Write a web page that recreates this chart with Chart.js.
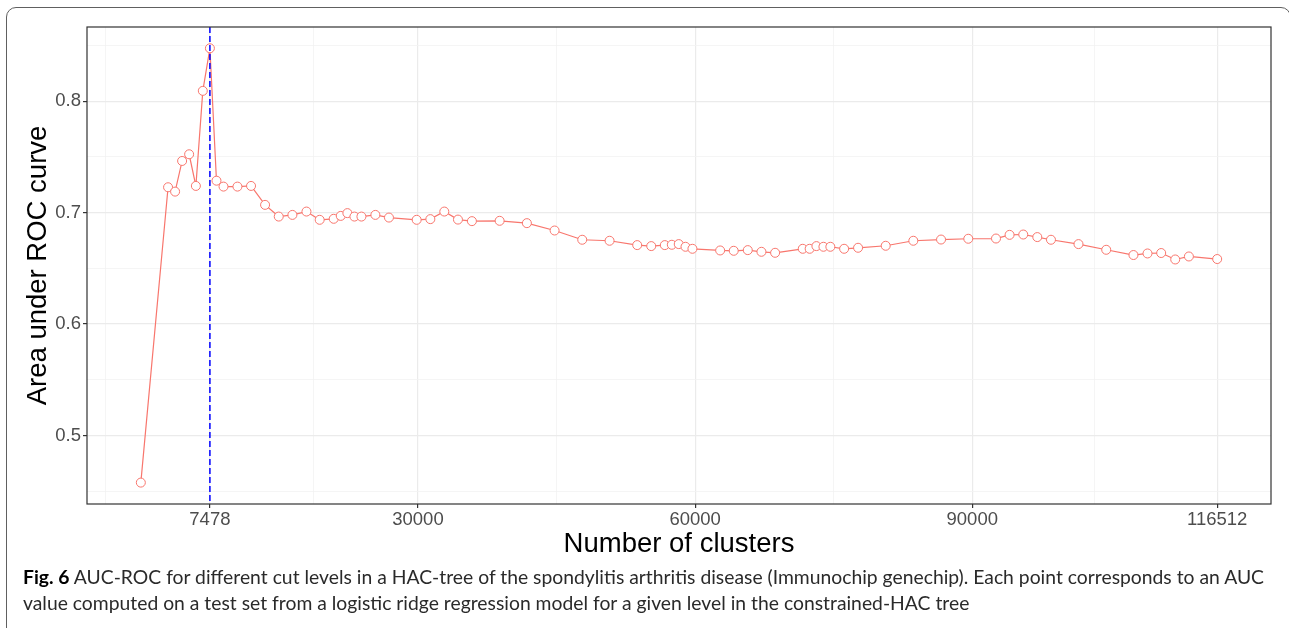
<!DOCTYPE html>
<html>
<head>
<meta charset="utf-8">
<script src="https://cdn.jsdelivr.net/npm/chart.js@4.4.1/dist/chart.umd.min.js"></script>
<style>
html,body{margin:0;padding:0;background:#fff;overflow:hidden;}
#wrap{position:relative;width:1289px;height:628px;overflow:hidden;}
#frame{position:absolute;left:5.5px;top:6.75px;width:1285.5px;height:700px;border:1.5px solid #606060;border-radius:10px;box-sizing:border-box;}
#chart{position:absolute;left:0;top:0;}
.cap{position:absolute;left:22.5px;font-family:Lato,"Open Sans",sans-serif;font-size:19px;line-height:26px;color:#2a2a2a;white-space:nowrap;transform-origin:0 0;}
.cap b{color:#000;font-weight:700;}
</style>
</head>
<body>
<div id="wrap">
  <div id="frame"></div>
  <canvas id="chart" width="1289" height="628"></canvas>
  <div class="cap" id="cap1" style="top:564px;"><b>Fig. 6</b> AUC-ROC for different cut levels in a HAC-tree of the spondylitis arthritis disease (Immunochip genechip). Each point corresponds to an AUC</div>
  <div class="cap" id="cap2" style="top:590px;">value computed on a test set from a logistic ridge regression model for a given level in the constrained-HAC tree</div>
</div>
<script>
// ---- data ----
const clusters = [1, 2950, 3710, 4470, 5230, 5960, 6710, 7478, 8190, 8950,
  10460, 11930, 13450, 14930, 16410, 17930, 19360, 20880, 21640, 22360,
  23120, 23880, 25390, 26860, 29860, 31340, 32850, 34330, 35840, 38840,
  41790, 44790, 47780, 50740, 53730, 55250, 56720, 57480, 58230, 58960,
  59710, 62710, 64180, 65700, 67180, 68660, 71650, 72400, 73130, 73890,
  74640, 76130, 77640, 80630, 83620, 86620, 89570, 92570, 94040, 95520,
  97040, 98520, 101500, 104500, 107450, 108970, 110450, 111970, 113450, 116512];
const auc = [0.4577, 0.7227, 0.7188, 0.7463, 0.7523, 0.7239, 0.8092, 0.8474, 0.7286, 0.7233,
  0.7233, 0.7239, 0.7069, 0.6964, 0.6979, 0.7009, 0.6935, 0.6944, 0.6970, 0.6995,
  0.6964, 0.6964, 0.6979, 0.6955, 0.6935, 0.6941, 0.7009, 0.6937, 0.6923, 0.6926,
  0.6905, 0.6839, 0.6756, 0.6747, 0.6708, 0.6699, 0.6708, 0.6711, 0.6717, 0.6693,
  0.6675, 0.6660, 0.6657, 0.6663, 0.6648, 0.6639, 0.6675, 0.6675, 0.6699, 0.6693,
  0.6693, 0.6675, 0.6684, 0.6702, 0.6747, 0.6758, 0.6765, 0.6767, 0.6800, 0.6803,
  0.6780, 0.6756, 0.6717, 0.6666, 0.6619, 0.6633, 0.6637, 0.6579, 0.6606, 0.6583];
const bestCut = 7478;
const xMajorTicks = [7478, 30000, 60000, 90000, 116512];
const xMinorTicks = [-3783, 18739, 45000, 75000, 103256];
const yMajorTicks = [0.5, 0.6, 0.7, 0.8];
const yMinorTicks = [0.45, 0.55, 0.65, 0.75, 0.85];
const xLabel = 'Number of clusters';
const yLabel = 'Area under ROC curve';

// ---- chart ----
const points = clusters.map((c, i) => ({x: c, y: auc[i]}));
const near = (a, b) => Math.abs(a - b) < 1e-6;
const isXMajor = v => xMajorTicks.some(t => near(t, v));
const isYMajor = v => yMajorTicks.some(t => near(t, v));

const xMin = -5826, xMax = 122338, yMin = 0.4385, yMax = 0.8665;

const panelPlugin = {
  id: 'panelPlugin',
  afterDatasetsDraw(chart) {
    const {ctx, chartArea: a, scales: {x}} = chart;
    const px = x.getPixelForValue(bestCut);
    ctx.save();
    ctx.strokeStyle = '#0000FF';
    ctx.lineWidth = 1.5;
    ctx.setLineDash([6, 3]);
    ctx.beginPath();
    ctx.moveTo(px, a.top);
    ctx.lineTo(px, a.bottom);
    ctx.stroke();
    ctx.setLineDash([]);
    ctx.strokeStyle = '#333333';
    ctx.lineWidth = 1.2;
    ctx.strokeRect(a.left, a.top, a.right - a.left, a.bottom - a.top);
    ctx.restore();
  }
};

new Chart(document.getElementById('chart'), {
  type: 'scatter',
  data: {
    datasets: [{
      data: points,
      showLine: true,
      borderColor: '#F8766D',
      borderWidth: 1.2,
      pointRadius: 4.5,
      pointBackgroundColor: '#FFFFFF',
      pointBorderColor: '#F8766D',
      pointBorderWidth: 1,
      tension: 0
    }]
  },
  options: {
    responsive: false,
    animation: false,
    devicePixelRatio: 1,
    layout: {padding: {left: 0, right: 18, top: 27, bottom: 64}},
    plugins: {legend: {display: false}, tooltip: {enabled: false}},
    scales: {
      x: {
        type: 'linear',
        min: xMin, max: xMax,
        afterBuildTicks: s => { s.ticks = xMinorTicks.concat(xMajorTicks).sort((a, b) => a - b).map(v => ({value: v})); },
        afterFit: s => { s.height = 60; },
        border: {display: false},
        grid: {
          color: c => (c.tick && isXMajor(c.tick.value)) ? '#EBEBEB' : '#F3F3F3',
          lineWidth: c => (c.tick && isXMajor(c.tick.value)) ? 1.2 : 0.8,
          tickColor: c => (c.tick && isXMajor(c.tick.value)) ? '#333333' : 'rgba(0,0,0,0)',
          tickLength: 4
        },
        ticks: {
          autoSkip: false, maxRotation: 0, minRotation: 0, padding: 1,
          color: '#4D4D4D',
          font: {family: 'Liberation Sans, Arial, sans-serif', size: 18.5},
          callback: v => isXMajor(v) ? String(v) : ''
        },
        title: {
          display: true, text: xLabel, color: '#000',
          font: {family: 'Liberation Sans, Arial, sans-serif', size: 27.5},
          padding: {top: 0, bottom: 3}
        }
      },
      y: {
        type: 'linear',
        min: yMin, max: yMax,
        afterBuildTicks: s => { s.ticks = yMinorTicks.concat(yMajorTicks).sort((a, b) => a - b).map(v => ({value: v})); },
        afterFit: s => { s.width = 87; },
        border: {display: false},
        grid: {
          color: c => (c.tick && isYMajor(c.tick.value)) ? '#EBEBEB' : '#F3F3F3',
          lineWidth: c => (c.tick && isYMajor(c.tick.value)) ? 1.2 : 0.8,
          tickColor: c => (c.tick && isYMajor(c.tick.value)) ? '#333333' : 'rgba(0,0,0,0)',
          tickLength: 4
        },
        ticks: {
          autoSkip: false, padding: 2,
          color: '#4D4D4D',
          font: {family: 'Liberation Sans, Arial, sans-serif', size: 18.5},
          callback: v => isYMajor(v) ? v.toFixed(1) : ''
        },
        title: {
          display: true, text: yLabel, color: '#000',
          font: {family: 'Liberation Sans, Arial, sans-serif', size: 27.5},
          padding: {top: 22, bottom: 0}
        }
      }
    }
  },
  plugins: [panelPlugin]
});

// fit caption width to the reference line width
(function fitCaption() {
  const c1 = document.getElementById('cap1');
  const c2 = document.getElementById('cap2');
  const w = c1.getBoundingClientRect().width;
  const s = 1241 / w;
  c1.style.transform = 'scaleX(' + s + ')';
  c2.style.transform = 'scaleX(' + s + ')';
})();
</script>
</body>
</html>
